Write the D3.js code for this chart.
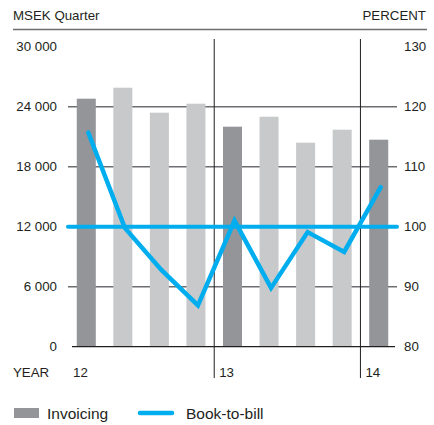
<html>
<head>
  <script src="https://d3js.org/d3.v7.min.js"></script>
  <style>
    body { margin: 0; background: #fff; }
    text { font-family: "Liberation Sans", Arial, sans-serif; fill: #231f20; }
  </style>
</head>
<body>
  <div id="vis"></div>
  <script type="text/javascript">

    // quarterly data, Q1 2012 .. Q1 2014
    var quarters = ["12Q1", "12Q2", "12Q3", "12Q4", "13Q1", "13Q2", "13Q3", "13Q4", "14Q1"];
    var invoicing = [24800, 25900, 23400, 24300, 22000, 23000, 20400, 21700, 20700];
    var bookToBill = [115.7, 99.8, 92.8, 86.9, 101, 89.8, 99.1, 95.8, 106.6];
    var leftTicks = [0, 6000, 12000, 18000, 24000, 30000];
    var rightTicks = [80, 90, 100, 110, 120, 130];
    var years = [{label: "12", start: "12Q1"}, {label: "13", start: "13Q1"}, {label: "14", start: "14Q1"}];

    var width = 434, height = 425;
    var darkGray = "#939598", lightGray = "#c8c9cb", blue = "#00aeef", ink = "#231f20", grid = "#6d6e71";

    var svg = d3.select("#vis").append("svg")
        .attr("width", width)
        .attr("height", height);

    var x = d3.scaleBand()
        .domain(quarters)
        .range([68, 397])
        .paddingInner(0.48)
        .paddingOuter(0.24);

    var yLeft = d3.scaleLinear().domain([0, 30000]).range([346.7, 46.7]);
    var yRight = d3.scaleLinear().domain([80, 130]).range([346.7, 46.7]);

    var fmt = function(d) { return d3.format(",")(d).replace(",", " "); };

    // header
    svg.append("text").attr("x", 13).attr("y", 20).attr("font-size", 13.3).text("MSEK Quarter");
    svg.append("text").attr("x", 426).attr("y", 20).attr("font-size", 13.3)
        .attr("text-anchor", "end").text("PERCENT");
    svg.append("line").attr("x1", 13).attr("x2", 427).attr("y1", 29.5).attr("y2", 29.5)
        .attr("stroke", grid).attr("stroke-width", 1.5);

    // gridlines (not at 0, 12000 or 30000)
    svg.selectAll(".grid")
        .data(leftTicks.filter(function(d) { return d > 0 && d < 30000 && d != 12000; }))
        .enter().append("line")
        .attr("class", "grid")
        .attr("x1", 68).attr("x2", 397)
        .attr("y1", function(d) { return yLeft(d); })
        .attr("y2", function(d) { return yLeft(d); })
        .attr("stroke", grid).attr("stroke-width", 1.5);

    // left tick labels
    svg.selectAll(".lt")
        .data(leftTicks)
        .enter().append("text")
        .attr("x", 57)
        .attr("y", function(d) { return yLeft(d); })
        .attr("dy", "0.36em")
        .attr("text-anchor", "end")
        .attr("font-size", 13.3)
        .text(fmt);

    // right tick labels
    svg.selectAll(".rt")
        .data(rightTicks)
        .enter().append("text")
        .attr("x", 404)
        .attr("y", function(d) { return yRight(d); })
        .attr("dy", "0.36em")
        .attr("font-size", 13.3)
        .text(function(d) { return d; });

    // bars: first quarter of each year darker
    svg.selectAll(".bar")
        .data(invoicing)
        .enter().append("rect")
        .attr("x", function(d, i) { return x(quarters[i]); })
        .attr("width", x.bandwidth())
        .attr("y", function(d) { return yLeft(d); })
        .attr("height", function(d) { return yLeft(0) - yLeft(d); })
        .attr("fill", function(d, i) { return quarters[i].slice(2) == "Q1" ? darkGray : lightGray; });

    // baseline
    svg.append("line").attr("x1", 72).attr("x2", 395)
        .attr("y1", yLeft(0)).attr("y2", yLeft(0))
        .attr("stroke", ink).attr("stroke-width", 1.3);

    // year separators
    var sepX = function(q) { return x(q) - x.step() * x.paddingInner() / 2; };
    svg.selectAll(".sep")
        .data(years.slice(1))
        .enter().append("line")
        .attr("x1", function(d) { return sepX(d.start); })
        .attr("x2", function(d) { return sepX(d.start); })
        .attr("y1", 39).attr("y2", 378)
        .attr("stroke", ink).attr("stroke-width", 1);

    svg.append("text").attr("x", 13).attr("y", 377).attr("font-size", 13.3).text("YEAR");
    svg.selectAll(".yr")
        .data(years)
        .enter().append("text")
        .attr("x", function(d, i) { return (i == 0 ? 68 : sepX(d.start)) + 5; })
        .attr("y", 377)
        .attr("font-size", 13.3)
        .text(function(d) { return d.label; });

    // 100 % reference line
    svg.append("line").attr("x1", 68).attr("x2", 397)
        .attr("y1", yRight(100)).attr("y2", yRight(100))
        .attr("stroke", blue).attr("stroke-width", 4).attr("stroke-linecap", "round");

    // book-to-bill line
    var line = d3.line()
        .x(function(d, i) { return x(quarters[i]) + x.bandwidth() / 2 + 2; })
        .y(function(d) { return yRight(d); });

    svg.append("path")
        .datum(bookToBill)
        .attr("d", line)
        .attr("fill", "none")
        .attr("stroke", blue)
        .attr("stroke-width", 4.5)
        .attr("stroke-linejoin", "miter")
        .attr("stroke-linecap", "round");

    // legend
    svg.append("rect").attr("x", 14).attr("y", 408).attr("width", 25).attr("height", 10).attr("fill", darkGray);
    svg.append("text").attr("x", 47).attr("y", 419).attr("font-size", 15.5).text("Invoicing");
    svg.append("line").attr("x1", 140).attr("x2", 172).attr("y1", 413).attr("y2", 413)
        .attr("stroke", blue).attr("stroke-width", 4.5).attr("stroke-linecap", "round");
    svg.append("text").attr("x", 186).attr("y", 419).attr("font-size", 15.5).text("Book-to-bill");

  </script>
</body>
</html>
